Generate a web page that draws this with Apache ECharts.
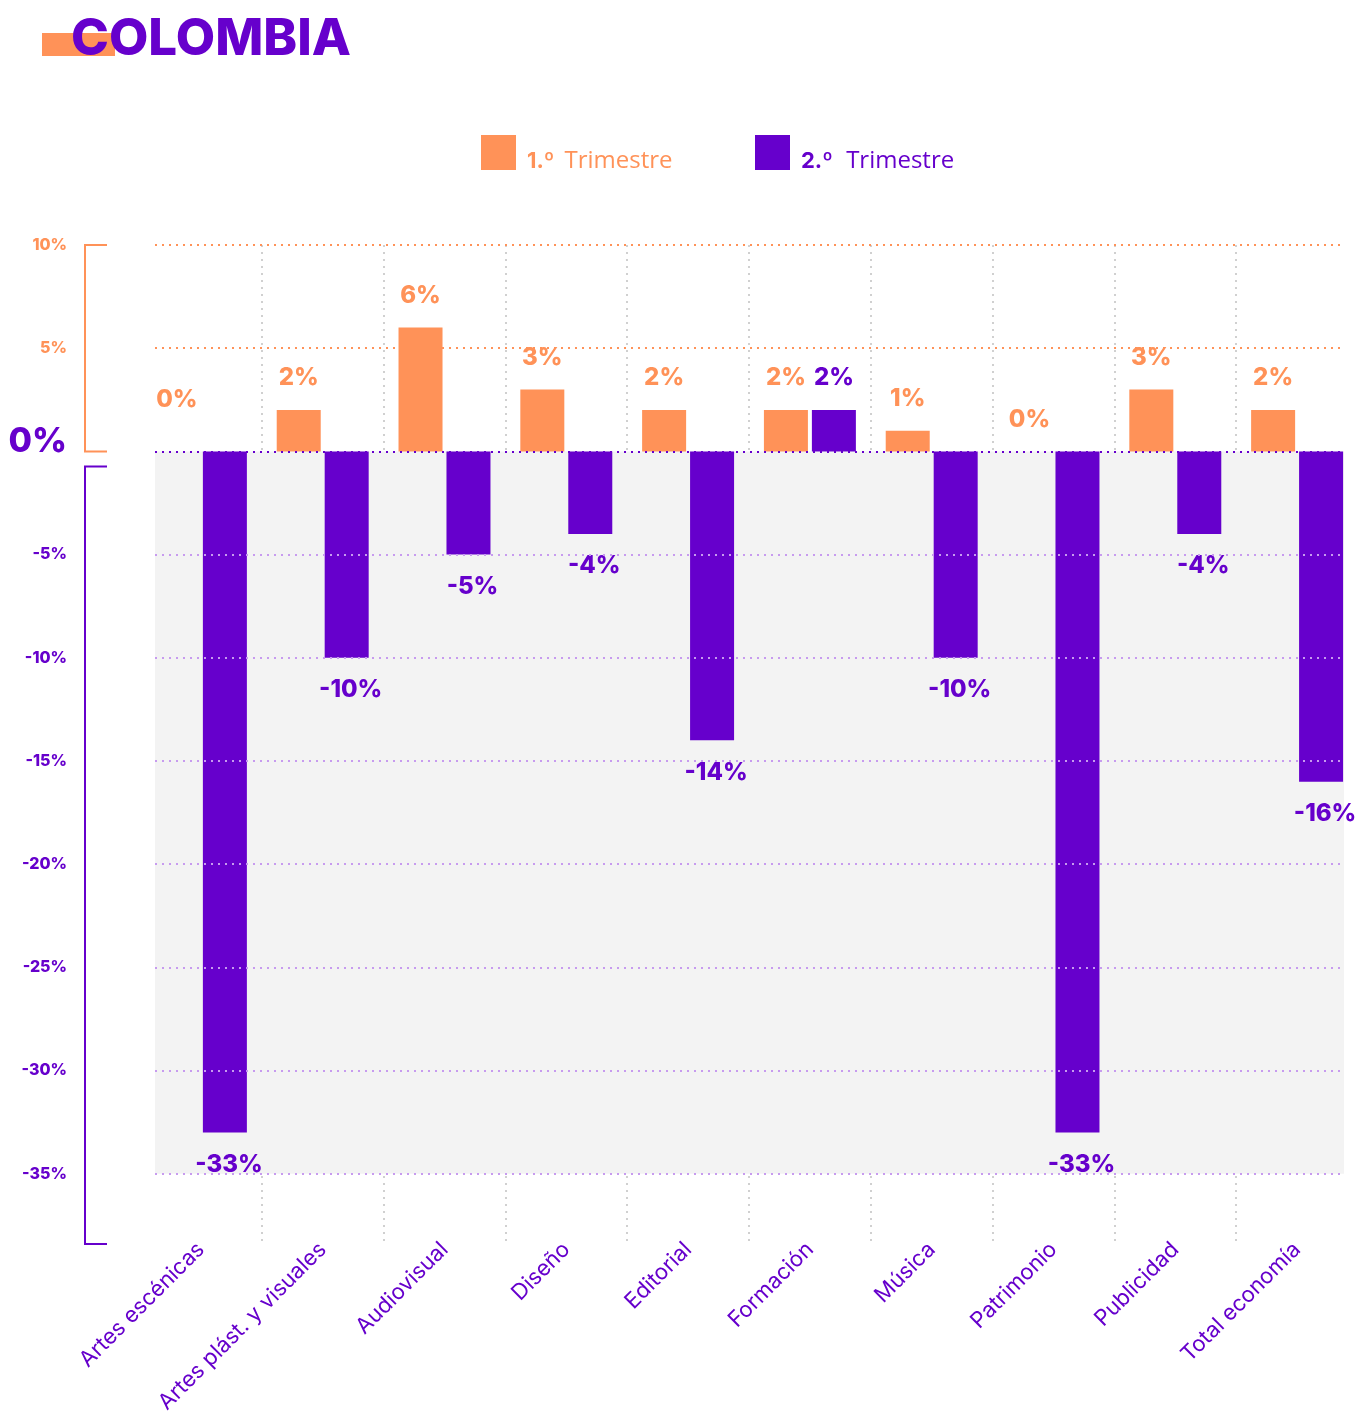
<!DOCTYPE html>
<html>
<head>
<meta charset="utf-8">
<script src="https://cdn.jsdelivr.net/npm/echarts@6/dist/echarts.min.js"></script>
<style>
  html, body { margin: 0; padding: 0; background: #fff; }
  #chart { width: 1364px; height: 1414px; }
</style>
</head>
<body>
<div id="chart"></div>
<script>
  // datos
  var categories = ['Artes escénicas', 'Artes plást. y visuales', 'Audiovisual', 'Diseño', 'Editorial',
    'Formación', 'Música', 'Patrimonio', 'Publicidad', 'Total economía'];
  var trimestre1 = [0, 2, 6, 3, 2, 2, 1, 0, 3, 2];
  var trimestre2 = [-33, -10, -5, -4, -14, 2, -10, -33, -4, -16];
  var yTicks = [-35, -30, -25, -20, -15, -10, -5, 0, 5, 10];
  var seriesNames = ['1.º Trimestre', '2.º Trimestre'];

  var ORANGE = '#FF9258';
  var PURPLE = '#6600CC';
  var FONT = 'Inter, "Noto Sans", sans-serif';

  var myChart = echarts.init(document.getElementById('chart'));

  /*etiqueta de cada barra*/
  function buildData(values, color, isFirst) {
    return values.map(function (v, i) {
      var label = {
        show: true,
        position: v < 0 ? 'bottom' : 'top',
        distance: 20,
        color: color,
        fontSize: 24,
        fontWeight: 800,
        fontFamily: FONT,
        formatter: v + '%'
      };
      if (v < 0) label.offset = [4, 0];
      if (isFirst && i === 0) label.offset = [0, -20];
      return {value: v, label: label};
    });
  }

  /*líneas horizontales punteadas*/
  var hLines = yTicks.map(function (v) {
    var color = v > 0 ? ORANGE : (v === 0 ? PURPLE : '#C79BEF');
    return [
      {x: 155, yAxis: v, lineStyle: {color: color, width: 2, type: [2, 5]}},
      {x: 1345, yAxis: v}
    ];
  });

  function legendOpt(name, left, color, gap) {
    return {
      data: [name],
      left: left,
      top: 130,
      icon: 'rect',
      itemWidth: 35,
      itemHeight: 35,
      selectedMode: false,
      formatter: function (n) {
        var p = n.split(' ');
        return '{b|' + p[0] + '}' + gap + '{t|' + p[1] + '}';
      },
      textStyle: {
        padding: [18, 0, 0, 6],
        rich: {
          b: {color: color, fontSize: 22, fontWeight: 'bold', fontFamily: FONT},
          t: {color: color, fontSize: 24, fontFamily: '"Open Sans", sans-serif'}
        }
      }
    };
  }

  myChart.setOption({
    animation: false,
    title: {
      text: 'COLOMBIA',
      left: 66,
      top: 9,
      z: 10,
      textStyle: {color: PURPLE, fontSize: 51, fontWeight: 800, fontFamily: FONT}
    },
    legend: [
      legendOpt(seriesNames[0], 476, ORANGE, '   '),
      legendOpt(seriesNames[1], 750, PURPLE, '    ')
    ],
    grid: {left: 140, right: 6, top: 245, bottom: 170, outerBoundsMode: 'none'},
    xAxis: {
      type: 'category',
      data: categories,
      axisLine: {show: false},
      axisTick: {show: false},
      splitLine: {
        show: true,
        showMinLine: false,
        showMaxLine: false,
        lineStyle: {color: '#D0D0D0', width: 2, type: [2, 5]}
      },
      axisLabel: {
        interval: 0,
        rotate: 45,
        margin: 2,
        color: PURPLE,
        fontSize: 22,
        fontFamily: FONT
      }
    },
    yAxis: {
      type: 'value',
      min: -38.4,
      max: 10,
      axisLine: {show: false},
      axisTick: {show: false},
      splitLine: {show: false},
      axisLabel: {
        customValues: yTicks,
        margin: 73,
        formatter: function (v) {
          if (v === 0) return '{z|0%}';
          return (v > 0 ? '{o|' : '{p|') + v + '%}';
        },
        rich: {
          z: {color: PURPLE, fontSize: 34, fontWeight: 800, fontFamily: FONT, padding: [0, 0, 20, 0]},
          o: {color: ORANGE, fontSize: 16, fontWeight: 800, fontFamily: FONT},
          p: {color: PURPLE, fontSize: 16, fontWeight: 800, fontFamily: FONT}
        }
      }
    },
    series: [
      {
        // fondo gris y líneas guía
        type: 'line',
        data: [],
        z: -1,
        silent: true,
        markArea: {
          silent: true,
          itemStyle: {color: '#F3F3F3'},
          data: [[{x: 155, yAxis: 0}, {x: 1344, yAxis: -35}]]
        },
        markLine: {
          silent: true,
          symbol: ['none', 'none'],
          label: {show: false},
          data: hLines
        }
      },
      {
        name: seriesNames[0],
        type: 'bar',
        barWidth: 44,
        barGap: '9%',
        itemStyle: {color: ORANGE},
        data: buildData(trimestre1, ORANGE, true)
      },
      {
        name: seriesNames[1],
        type: 'bar',
        barWidth: 44,
        barGap: '9%',
        itemStyle: {color: PURPLE},
        data: buildData(trimestre2, PURPLE, false)
      }
    ]
  });

  /*corchetes del eje Y*/
  var y10 = myChart.convertToPixel({yAxisIndex: 0}, 10);
  var y0 = myChart.convertToPixel({yAxisIndex: 0}, 0);
  var yMin = myChart.convertToPixel({yAxisIndex: 0}, -38.4);

  myChart.setOption({
    graphic: [
      {
        type: 'rect', z: 0,
        shape: {x: 42, y: 33, width: 73, height: 23},
        style: {fill: ORANGE}
      },
      {
        type: 'polyline', z: 0,
        shape: {points: [[107, y10], [85, y10], [85, y0], [107, y0]]},
        style: {stroke: ORANGE, lineWidth: 2, fill: null}
      },
      {
        type: 'polyline', z: 0,
        shape: {points: [[107, y0 + 15], [85, y0 + 15], [85, yMin], [107, yMin]]},
        style: {stroke: PURPLE, lineWidth: 2, fill: null}
      }
    ]
  });
</script>
</body>
</html>
